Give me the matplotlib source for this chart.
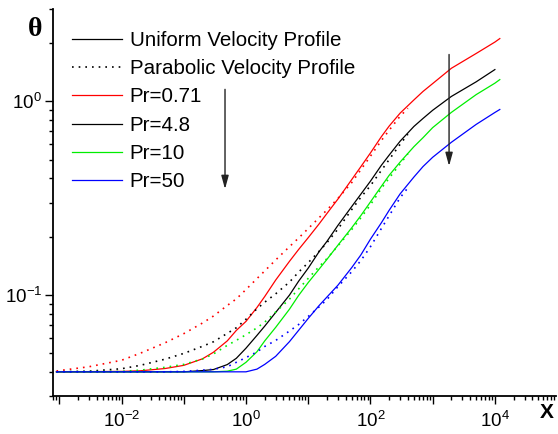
import numpy as np
import matplotlib
matplotlib.use('Agg')
import matplotlib.pyplot as plt
from matplotlib.ticker import LogLocator, FixedLocator, FuncFormatter, NullFormatter
from matplotlib.lines import Line2D

plt.rcParams['font.family'] = ['Liberation Sans', 'DejaVu Sans']
plt.rcParams['mathtext.default'] = 'regular'

# axial position X for the uniform-inlet (solid) curves
x_uniform = [9e-4, 3e-3, 1e-2, 2e-2, 5e-2, 0.1, 0.2, 0.3, 0.5, 0.7, 1, 1.5, 2, 3, 5, 7,
             10, 15, 20, 30, 50, 70, 100, 150, 200, 300, 500, 700, 1e3, 2e3, 5e3, 1e4, 1.2e4]

theta_u_071 = [0.0400, 0.0401, 0.0402, 0.0405, 0.0416, 0.0432, 0.0467, 0.0505, 0.0578, 0.0655,
               0.0729, 0.0860, 0.0980, 0.1192, 0.1490, 0.1714, 0.1974, 0.2328, 0.2633, 0.3124,
               0.394, 0.459, 0.541, 0.657, 0.745, 0.869, 1.017, 1.125, 1.235, 1.482, 1.767,
               2.024, 2.110]
theta_u_48 = [0.0400, 0.0400, 0.0400, 0.0400, 0.0400, 0.0400, 0.0406, 0.0411, 0.0436, 0.0470,
              0.0530, 0.0617, 0.0689, 0.0811, 0.0997, 0.1175, 0.1374, 0.1674, 0.1889, 0.2284,
              0.2858, 0.331, 0.3866, 0.4673, 0.5274, 0.6223, 0.7418, 0.8157, 0.8989, 1.060,
              1.261, 1.459]
theta_u_10 = [0.0400, 0.0400, 0.0400, 0.0400, 0.0400, 0.0400, 0.0400, 0.0400, 0.0403, 0.0413,
              0.0448, 0.0508, 0.0578, 0.0679, 0.0843, 0.0992, 0.1157, 0.1359, 0.1525, 0.1804,
              0.2220, 0.2566, 0.302, 0.3639, 0.4146, 0.4853, 0.5831, 0.6487, 0.7313, 0.8768,
              1.083, 1.241, 1.295]
theta_u_50 = [0.0400, 0.0400, 0.0400, 0.0400, 0.0400, 0.0400, 0.0400, 0.0400, 0.0400, 0.0400,
              0.0400, 0.0413, 0.0437, 0.0481, 0.0573, 0.0655, 0.0755, 0.0881, 0.0974, 0.1121,
              0.1382, 0.1606, 0.1939, 0.2358, 0.2735, 0.3325, 0.4063, 0.4602, 0.5138, 0.6143,
              0.7597, 0.8757, 0.9074]

# parabolic-inlet (dotted) curves
x_parabolic = [9e-4, 3e-3, 1e-2, 2e-2, 5e-2, 0.1, 0.2, 0.3, 0.5, 0.7, 1, 1.5, 2, 3, 5, 7,
               10, 15, 20, 30, 50, 70, 100, 150, 200, 300, 400]

theta_p_071 = [0.0404, 0.0425, 0.0459, 0.0499, 0.0565, 0.0630, 0.0715, 0.0777, 0.0881, 0.0953,
               0.1065, 0.1213, 0.1329, 0.1514, 0.1774, 0.1965, 0.2200, 0.2505, 0.2745, 0.315,
               0.380, 0.443, 0.5205, 0.6276, 0.709, 0.838, 0.920]
theta_p_48 = [0.0400, 0.0403, 0.0415, 0.0432, 0.0465, 0.0498, 0.0542, 0.0572, 0.0632, 0.0676,
              0.0748, 0.0847, 0.0916, 0.1012, 0.1164, 0.1310, 0.1466, 0.1680, 0.1861, 0.2186,
              0.2758, 0.319, 0.3664, 0.440, 0.4998, 0.600, 0.676]
theta_p_10 = [0.0400, 0.0401, 0.0402, 0.0408, 0.0422, 0.0437, 0.0466, 0.0495, 0.0548, 0.0582,
              0.0622, 0.0675, 0.0723, 0.0815, 0.0950, 0.1072, 0.1216, 0.1400, 0.1539, 0.1790,
              0.2173, 0.2499, 0.292, 0.3549, 0.4011, 0.4745, 0.5355]
theta_p_50 = [0.0400, 0.0400, 0.0400, 0.0400, 0.0400, 0.0402, 0.0408, 0.0412, 0.0425, 0.0448,
              0.0474, 0.0507, 0.0541, 0.0581, 0.0650, 0.0702, 0.0773, 0.0867, 0.0945, 0.1102,
              0.1316, 0.1502, 0.1772, 0.2203, 0.2563, 0.3176, 0.3575]

pr_labels = ['Pr=0.71', 'Pr=4.8', 'Pr=10', 'Pr=50']
pr_colors = ['#ff0000', '#000000', '#00ee00', '#0000ff']
uniform = [theta_u_071, theta_u_48, theta_u_10, theta_u_50]
parabolic = [theta_p_071, theta_p_48, theta_p_10, theta_p_50]

x_major = [1e-3, 1e-2, 1e-1, 1, 10, 100, 1e3, 1e4]
y_major = [0.1, 1]

fig = plt.figure(figsize=(5.58, 4.34), dpi=100)
ax = fig.add_axes([53.3 / 558, 1 - 396 / 434, (556 - 53.3) / 558, 387 / 434])

dots = (0, (1, 3))
solid_lines = []
for t_p, t_u, c in zip(parabolic, uniform, pr_colors):
    ax.plot(x_parabolic, t_p, color=c, lw=1.2, ls=dots)
    ln, = ax.plot(x_uniform[:len(t_u)], t_u, color=c, lw=0.9)
    solid_lines.append(ln)

ax.set_xscale('log')
ax.set_yscale('log')
ax.set_xlim(8e-4, 9.6e4)
ax.set_ylim(0.03, 3)

for s in ['top', 'right']:
    ax.spines[s].set_visible(False)
for s in ['left', 'bottom']:
    ax.spines[s].set_linewidth(1.3)


def even_decades(v, pos):
    e = int(round(np.log10(v)))
    return r'$10^{%d}$' % e if e % 2 == 0 else ''


ax.xaxis.set_major_locator(FixedLocator(x_major))
ax.xaxis.set_minor_locator(LogLocator(base=10, subs=np.arange(2, 10), numticks=20))
ax.xaxis.set_major_formatter(FuncFormatter(even_decades))
ax.xaxis.set_minor_formatter(NullFormatter())
ax.yaxis.set_major_locator(FixedLocator(y_major))
ax.yaxis.set_minor_locator(LogLocator(base=10, subs=np.arange(2, 10), numticks=10))
ax.yaxis.set_major_formatter(FuncFormatter(lambda v, p: r'$10^{%d}$' % int(round(np.log10(v)))))
ax.yaxis.set_minor_formatter(NullFormatter())
ax.tick_params(which='major', direction='out', length=6, width=1, labelsize=13.5)
ax.tick_params(which='minor', direction='out', length=3, width=1)
ax.tick_params(axis='x', which='major', pad=5)
ax.tick_params(axis='y', which='major', pad=2)

handles = [Line2D([], [], color='k', lw=0.9),
           Line2D([], [], color='k', lw=1.2, ls=dots)] + solid_lines
labels = ['Uniform Velocity Profile', 'Parabolic Velocity Profile'] + pr_labels
ax.legend(handles, labels, loc='upper left', bbox_to_anchor=(72 / 558, 1 - 31 / 434),
          bbox_transform=fig.transFigure, frameon=False, fontsize=14.8,
          borderpad=0, borderaxespad=0, handlelength=2.43, handletextpad=0.38,
          labelspacing=0.45)

arrow = dict(arrowstyle='-|>,head_length=0.8,head_width=0.22', color='#222222',
             lw=1.0, shrinkA=0, shrinkB=0)
ax.annotate('', xy=(0.46, 0.352), xytext=(0.46, 1.153), arrowprops=arrow)
ax.annotate('', xy=(1835, 0.463), xytext=(1835, 1.746), arrowprops=arrow)

fig.text(35.5 / 558, 1 - 29 / 434, 'θ', fontsize=20, fontweight='bold',
         family=['Liberation Serif', 'DejaVu Serif'], ha='center', va='center')
fig.text(547 / 558, 1 - 412.5 / 434, 'X', fontsize=15, fontweight='bold',
         ha='center', va='center')

fig.savefig('out.png', dpi=100)
